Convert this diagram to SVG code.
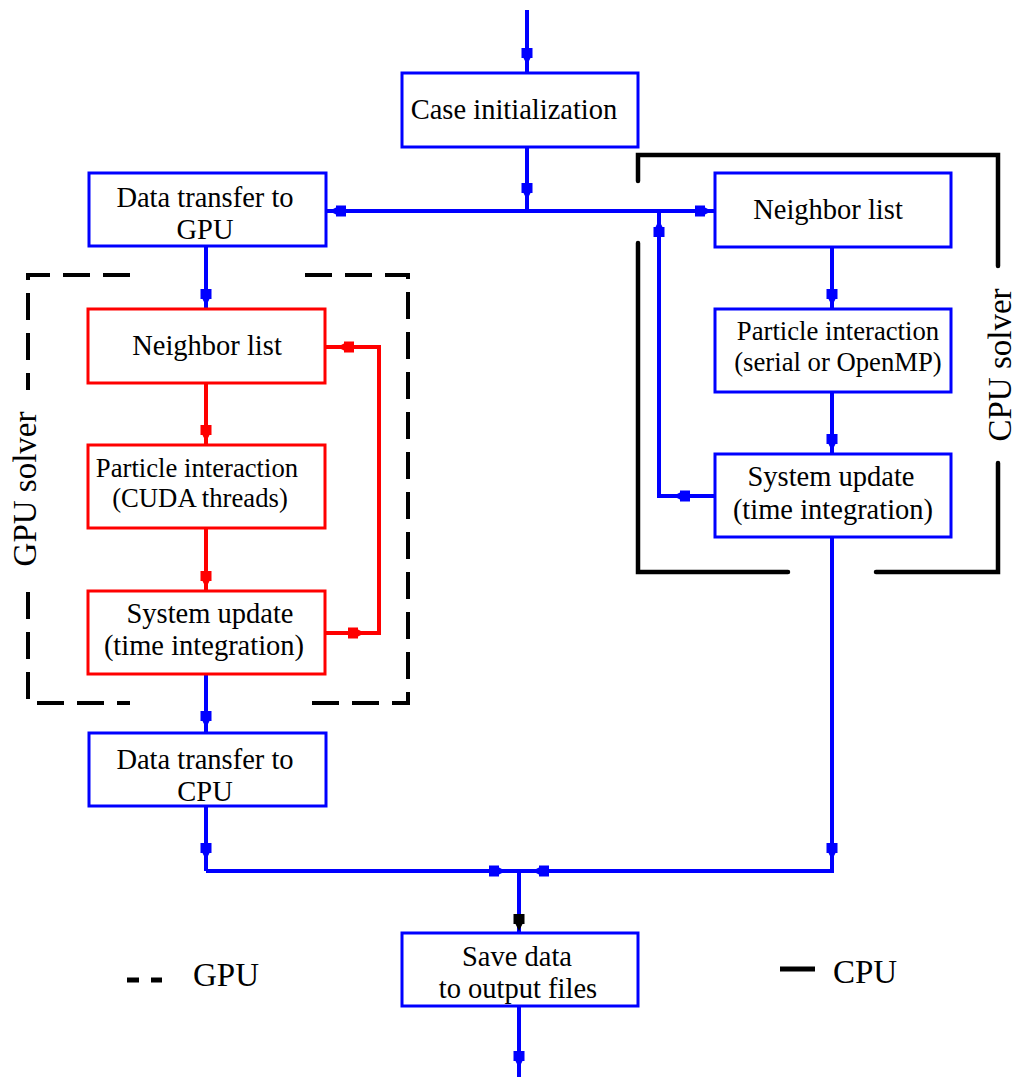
<svg xmlns="http://www.w3.org/2000/svg" width="1016" height="1077" viewBox="0 0 1016 1077">
  <style>
    .bg { fill: #ffffff; }
    .box-b { fill: #ffffff; stroke: #0000ff; stroke-width: 3; }
    .box-r { fill: #ffffff; stroke: #ff0000; stroke-width: 3; }
    .wire-b { fill: none; stroke: #0000ff; stroke-width: 4; }
    .wire-r { fill: none; stroke: #ff0000; stroke-width: 4; }
    .ah-b { fill: #0000ff; }
    .ah-r { fill: #ff0000; }
    .ah-k { fill: #000000; }
    .frame-gpu { fill: none; stroke: #000000; stroke-width: 4; stroke-dasharray: 27 13; }
    .frame-cpu { fill: none; stroke: #000000; stroke-width: 4.5; stroke-linecap: round; }
    text { font-family: "Liberation Serif", "Times New Roman", serif; fill: #000000; text-anchor: middle; }
    .node-label { font-size: 28.5px; }
    .node-label-sm { font-size: 26.7px; }
    .frame-label { font-size: 33px; }
  </style>
  <defs>
    <!-- small block arrowhead, tip at the origin, pointing along +x -->
    <path id="ah" d="M0,0 L-7,-3.5 L-7,-5.5 L-17,-5.5 L-17,5.5 L-7,5.5 L-7,3.5 Z"/>
  </defs>

  <rect class="bg" x="0" y="0" width="1016" height="1077"/>

  <!-- solver frames -->
  <g id="gpu-frame">
    <path class="frame-gpu" d="M130,275 L28,275 L28,390"/>
    <path class="frame-gpu" d="M28,592 L28,703 L130,703"/>
    <path class="frame-gpu" d="M305,275 L408,275 L408,703 L305,703"/>
    <text class="frame-label" transform="translate(36,489) rotate(-90)">GPU solver</text>
  </g>
  <g id="cpu-frame">
    <path class="frame-cpu" d="M638,181 L638,155 L998,155 L998,266"/>
    <path class="frame-cpu" d="M638,243 L638,572 L788,572"/>
    <path class="frame-cpu" d="M876,572 L998,572 L998,463"/>
    <text class="frame-label" transform="translate(1011,365) rotate(-90)">CPU solver</text>
  </g>

  <!-- connectors -->
  <g id="connectors">
    <path class="wire-b" d="M527,10 L527,73"/>
    <path class="wire-b" d="M527,147 L527,211"/>
    <path class="wire-b" d="M326,211 L715,211"/>
    <path class="wire-b" d="M715,496 L659,496 L659,211"/>
    <path class="wire-b" d="M832,247 L832,309"/>
    <path class="wire-b" d="M832,392 L832,454"/>
    <path class="wire-b" d="M832,537 L832,871 L206,871"/>
    <path class="wire-b" d="M206,246 L206,309"/>
    <path class="wire-r" d="M206,383 L206,445"/>
    <path class="wire-r" d="M206,528 L206,591"/>
    <path class="wire-r" d="M325,633 L379,633 L379,347 L325,347"/>
    <path class="wire-b" d="M206,674 L206,733"/>
    <path class="wire-b" d="M206,806 L206,871"/>
    <path class="wire-b" d="M519,871 L519,933"/>
    <path class="wire-b" d="M519,1006 L519,1077"/>

    <use href="#ah" class="ah-b" transform="translate(527,65) rotate(90)"/>
    <use href="#ah" class="ah-b" transform="translate(527,200) rotate(90)"/>
    <use href="#ah" class="ah-b" transform="translate(329,211) rotate(180)"/>
    <use href="#ah" class="ah-b" transform="translate(712,211)"/>
    <use href="#ah" class="ah-b" transform="translate(659,220) rotate(-90)"/>
    <use href="#ah" class="ah-b" transform="translate(673,496) rotate(180)"/>
    <use href="#ah" class="ah-b" transform="translate(832,306) rotate(90)"/>
    <use href="#ah" class="ah-b" transform="translate(832,451) rotate(90)"/>
    <use href="#ah" class="ah-b" transform="translate(832,860) rotate(90)"/>
    <use href="#ah" class="ah-b" transform="translate(206,306) rotate(90)"/>
    <use href="#ah" class="ah-r" transform="translate(206,442) rotate(90)"/>
    <use href="#ah" class="ah-r" transform="translate(206,588) rotate(90)"/>
    <use href="#ah" class="ah-r" transform="translate(365,633)"/>
    <use href="#ah" class="ah-r" transform="translate(337,347) rotate(180)"/>
    <use href="#ah" class="ah-b" transform="translate(206,728) rotate(90)"/>
    <use href="#ah" class="ah-b" transform="translate(206,860) rotate(90)"/>
    <use href="#ah" class="ah-b" transform="translate(506,871)"/>
    <use href="#ah" class="ah-b" transform="translate(532,871) rotate(180)"/>
    <use href="#ah" class="ah-k" transform="translate(519,931) rotate(90)"/>
    <use href="#ah" class="ah-b" transform="translate(519,1068) rotate(90)"/>
  </g>

  <!-- nodes -->
  <g id="case-init">
    <rect class="box-b" x="402" y="73" width="236" height="74"/>
    <text class="node-label" x="514" y="119">Case initialization</text>
  </g>
  <g id="transfer-gpu">
    <rect class="box-b" x="89" y="173" width="237" height="73"/>
    <text class="node-label" x="205" y="207">Data transfer to</text>
    <text class="node-label" x="205" y="239">GPU</text>
  </g>
  <g id="gpu-neighbor">
    <rect class="box-r" x="88" y="309" width="237" height="74"/>
    <text class="node-label" x="207" y="355">Neighbor list</text>
  </g>
  <g id="gpu-interaction">
    <rect class="box-r" x="88" y="445" width="237" height="83"/>
    <text class="node-label-sm" x="197" y="477">Particle interaction</text>
    <text class="node-label-sm" x="200" y="507">(CUDA  threads)</text>
  </g>
  <g id="gpu-update">
    <rect class="box-r" x="88" y="591" width="237" height="83"/>
    <text class="node-label" x="210" y="623">System update</text>
    <text class="node-label" x="204" y="655">(time integration)</text>
  </g>
  <g id="transfer-cpu">
    <rect class="box-b" x="89" y="733" width="237" height="73"/>
    <text class="node-label" x="205" y="769">Data transfer to</text>
    <text class="node-label" x="205" y="801">CPU</text>
  </g>
  <g id="cpu-neighbor">
    <rect class="box-b" x="715" y="173" width="236" height="74"/>
    <text class="node-label" x="828" y="219">Neighbor list</text>
  </g>
  <g id="cpu-interaction">
    <rect class="box-b" x="715" y="309" width="236" height="83"/>
    <text class="node-label-sm" x="838" y="340">Particle interaction</text>
    <text class="node-label-sm" x="838" y="371">(serial or OpenMP)</text>
  </g>
  <g id="cpu-update">
    <rect class="box-b" x="715" y="454" width="236" height="83"/>
    <text class="node-label" x="831" y="486">System update</text>
    <text class="node-label" x="833" y="519">(time integration)</text>
  </g>
  <g id="save-data">
    <rect class="box-b" x="402" y="933" width="236" height="73"/>
    <text class="node-label" x="517" y="966">Save data</text>
    <text class="node-label" x="518" y="998">to output files</text>
  </g>

  <!-- legend -->
  <g id="legend">
    <path d="M127,980 H139 M151,980 H162" stroke="#000000" stroke-width="5" fill="none"/>
    <text class="frame-label" x="226" y="986">GPU</text>
    <path d="M780,969 H815" stroke="#000000" stroke-width="5" fill="none"/>
    <text class="frame-label" x="865" y="983">CPU</text>
  </g>
</svg>
